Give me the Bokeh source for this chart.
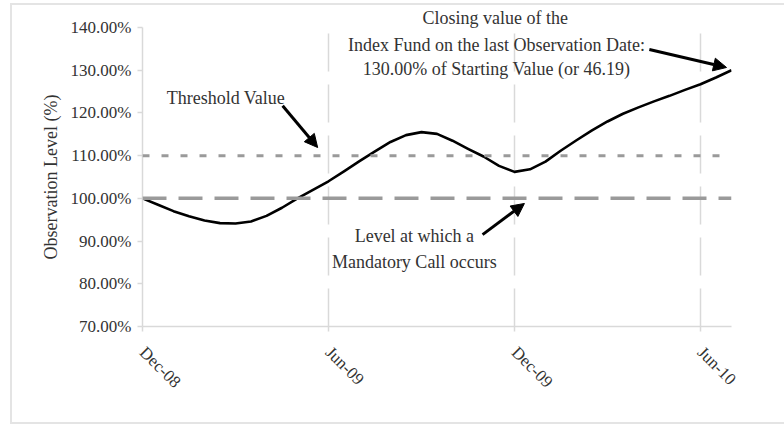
from bokeh.plotting import figure
from bokeh.models import (Range1d, FixedTicker, PrintfTickFormatter, Span, Label,
                          Arrow, NormalHead)
from bokeh.embed import file_html
from bokeh.resources import INLINE
import math

# ---- data ----
months = [0, 0.5, 1, 1.5, 2, 2.5, 3, 3.5, 4, 4.5, 5, 5.5, 6, 6.5, 7, 7.5, 8, 8.5, 9, 9.5,
          10, 10.5, 11, 11.5, 12, 12.5, 13, 13.5, 14, 14.5, 15, 15.5, 16, 16.5, 17, 17.5,
          18, 18.5, 19]
level = [100.0, 98.5, 97.0, 95.8, 94.8, 94.2, 94.1, 94.6, 95.9, 97.8, 100.0, 102.0,
         104.0, 106.3, 108.7, 111.0, 113.2, 114.8, 115.5, 115.1, 113.5, 111.6, 109.8,
         107.6, 106.2, 106.8, 108.6, 111.2, 113.6, 115.9, 118.0, 119.8, 121.3, 122.7,
         124.0, 125.4, 126.7, 128.3, 130.0]
x_ticks = [0, 6, 12, 18]
x_tick_labels = ["Dec-08", "Jun-09", "Dec-09", "Jun-10"]
y_ticks = [70, 80, 90, 100, 110, 120, 130, 140]
threshold_value = 110
call_level = 100
threshold_text = ["Threshold Value"]
closing_text = ["Closing value of the",
                "Index Fund on the last Observation Date:",
                "130.00% of Starting Value (or 46.19)"]
call_text = ["Level at which a", "Mandatory Call occurs"]

FONT = "Liberation Serif"
TXT = "#333333"
GRID = "#d9d9d9"

p = figure(width=776, height=421, output_backend="svg", toolbar_location=None,
           x_range=Range1d(0, 19), y_range=Range1d(70, 140),
           min_border_left=130, min_border_right=57, min_border_top=20,
           min_border_bottom=100)
p.styles = {"border": "2px solid #e4e4e4", "box-sizing": "border-box",
            "margin-left": "10px", "margin-top": "3px"}
p.outline_line_color = None
p.background_fill_color = "white"
p.border_fill_color = "white"

# first line of the closing-value note, drawn above the frame as the title
p.title.text = closing_text[0]
p.title.align = "left"
p.title.offset = 280
p.title.standoff = 0
p.title.text_font = FONT
p.title.text_font_size = "18px"
p.title.text_font_style = "normal"
p.title.text_color = TXT

# axes
p.xaxis.ticker = FixedTicker(ticks=x_ticks)
p.xaxis.major_label_overrides = {t: s for t, s in zip(x_ticks, x_tick_labels)}
p.xaxis.major_label_orientation = -math.pi / 4
p.xaxis.major_label_standoff = 18
p.yaxis.ticker = FixedTicker(ticks=y_ticks)
p.yaxis.formatter = PrintfTickFormatter(format="%.2f%%")
for ax in (p.xaxis[0], p.yaxis[0]):
    ax.axis_line_color = GRID
    ax.axis_line_width = 1.5
    ax.major_tick_line_color = GRID
    ax.major_tick_line_width = 1.5
    ax.major_tick_out = 5
    ax.major_tick_in = 0
    ax.minor_tick_line_color = None
    ax.major_label_text_font = FONT
    ax.major_label_text_font_size = "17px"
    ax.major_label_text_color = TXT
p.yaxis.axis_label = "Observation Level (%)"
p.yaxis.axis_label_text_font = FONT
p.yaxis.axis_label_text_font_size = "18px"
p.yaxis.axis_label_text_font_style = "normal"
p.yaxis.axis_label_text_color = TXT
p.yaxis.axis_label_standoff = 7
p.yaxis.major_label_standoff = 6

p.xgrid.ticker = FixedTicker(ticks=x_ticks)
p.xgrid.grid_line_color = GRID
p.xgrid.grid_line_width = 1.5
p.xgrid.grid_line_dash = "38 13"
p.ygrid.grid_line_color = None

# reference levels
p.add_layout(Span(location=threshold_value, dimension="width", line_color="#9a9a9a",
                  line_width=3, line_dash="7 12"))
p.add_layout(Span(location=call_level, dimension="width", line_color="#9a9a9a",
                  line_width=3.5, line_dash="24 12"))

# series
p.line(months, level, line_color="black", line_width=2.6, line_join="round")

# annotations
def lab(x, y, t):
    p.add_layout(Label(x=x, y=y, text=t, text_font=FONT, text_font_size="18px",
                       text_color=TXT, text_align="center", text_baseline="middle"))

lab(2.69, 123.6, threshold_text[0])
for t, y in zip(closing_text[1:], [136.0, 130.2]):
    lab(11.42, y, t)
for t, y in zip(call_text, [91.1, 85.2]):
    lab(8.77, y, t)

def arrow(x0, y0, x1, y1):
    p.add_layout(Arrow(x_start=x0, y_start=y0, x_end=x1, y_end=y1,
                       line_color="black", line_width=3,
                       end=NormalHead(size=13, fill_color="black", line_color="black",
                                      line_width=1)))

arrow(4.52, 121.7, 5.65, 111.9)
arrow(16.35, 134.85, 18.84, 130.64)
arrow(10.97, 91.5, 12.32, 98.8)

open("out.html", "w").write(file_html(p, INLINE))
